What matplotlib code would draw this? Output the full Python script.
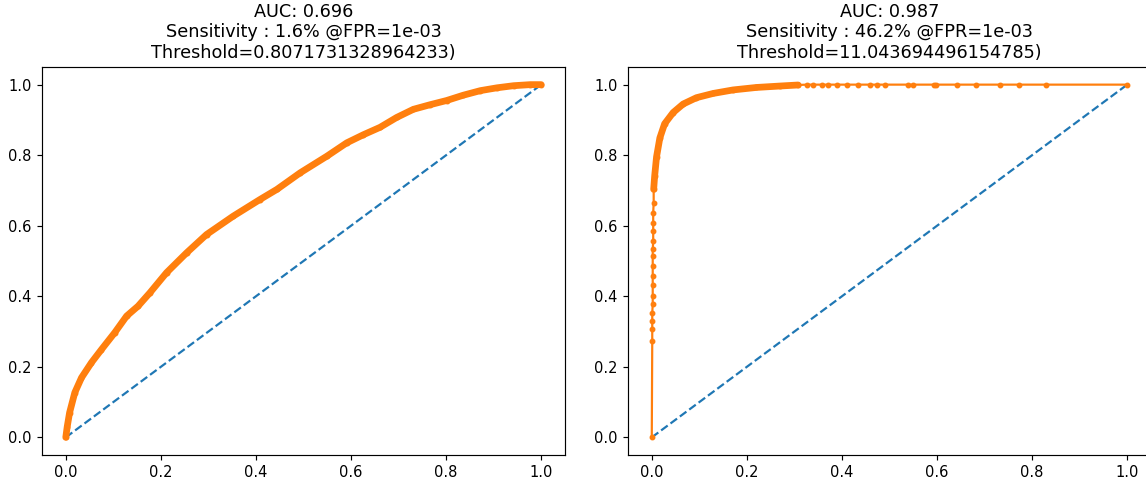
import matplotlib
matplotlib.use("Agg")
import matplotlib.pyplot as plt

# Left ROC curve
left_fpr = [0.0, 0.003, 0.008, 0.019, 0.033, 0.054, 0.075, 0.103, 0.128, 0.152,
            0.177, 0.212, 0.254, 0.296, 0.352, 0.408, 0.444, 0.493, 0.549,
            0.591, 0.626, 0.661, 0.696, 0.731, 0.766, 0.801, 0.836, 0.872, 0.907,
            0.942, 0.977, 1.0]
left_tpr = [0.0, 0.03, 0.07, 0.127, 0.169, 0.212, 0.249, 0.297, 0.344, 0.372,
            0.410, 0.467, 0.523, 0.575, 0.627, 0.674, 0.703, 0.750, 0.797,
            0.835, 0.858, 0.879, 0.907, 0.930, 0.943, 0.955, 0.970, 0.983, 0.991,
            0.997, 1.0, 1.0]

# Right ROC curve
right_fpr = [0.0, 0.001, 0.001, 0.001, 0.001, 0.002, 0.002, 0.002, 0.002, 0.002,
             0.002, 0.002, 0.003, 0.003, 0.003, 0.003, 0.004, 0.004,
             0.006, 0.010, 0.017, 0.027, 0.045, 0.066, 0.094, 0.129, 0.171,
             0.220, 0.269, 0.308,
             0.326, 0.340, 0.357, 0.371, 0.389, 0.411, 0.433, 0.458, 0.473, 0.491,
             0.539, 0.550, 0.594, 0.598, 0.642, 0.681, 0.732, 0.773, 0.829, 1.0]
right_tpr = [0.0, 0.273, 0.306, 0.330, 0.353, 0.377, 0.400, 0.433, 0.457, 0.485,
             0.514, 0.533, 0.556, 0.584, 0.608, 0.637, 0.665, 0.703,
             0.740, 0.795, 0.849, 0.889, 0.921, 0.945, 0.963, 0.975, 0.985,
             0.992, 0.996, 0.999,
             1.0, 1.0, 1.0, 1.0, 1.0, 1.0, 1.0, 1.0, 1.0, 1.0,
             1.0, 1.0, 1.0, 1.0, 1.0, 1.0, 1.0, 1.0, 1.0, 1.0]
right_dense = slice(17, 30)  # densely sampled part of the right curve

diag = [0, 1]

titles = [
    "AUC: 0.696\nSensitivity : 1.6% @FPR=1e-03\nThreshold=0.8071731328964233)",
    "AUC: 0.987\nSensitivity : 46.2% @FPR=1e-03\nThreshold=11.043694496154785)",
]

DPI = 105.6
W, H = 1146, 484
fig = plt.figure(figsize=(W / DPI, H / DPI), dpi=DPI)
ax1 = fig.add_axes([42 / W, 29 / H, 523 / W, 388 / H])
ax2 = fig.add_axes([628 / W, 29 / H, 523 / W, 388 / H])

ax1.plot(diag, diag, linestyle='--', color='C0')
ax1.plot(left_fpr, left_tpr, marker='.', color='C1', lw=4.6,
         solid_capstyle='round', solid_joinstyle='round')
ax1.set_title(titles[0])

ax2.plot(diag, diag, linestyle='--', color='C0')
ax2.plot(right_fpr, right_tpr, marker='.', color='C1')
ax2.plot(right_fpr[right_dense], right_tpr[right_dense], color='C1', lw=4.6,
         solid_capstyle='round', solid_joinstyle='round')
ax2.set_title(titles[1])

for ax in (ax1, ax2):
    ax.set_xlim(-0.05, 1.05)
    ax.set_ylim(-0.05, 1.05)
    ax.set_xticks([0.0, 0.2, 0.4, 0.6, 0.8, 1.0])
    ax.set_yticks([0.0, 0.2, 0.4, 0.6, 0.8, 1.0])

fig.savefig("out.png", dpi=DPI)
